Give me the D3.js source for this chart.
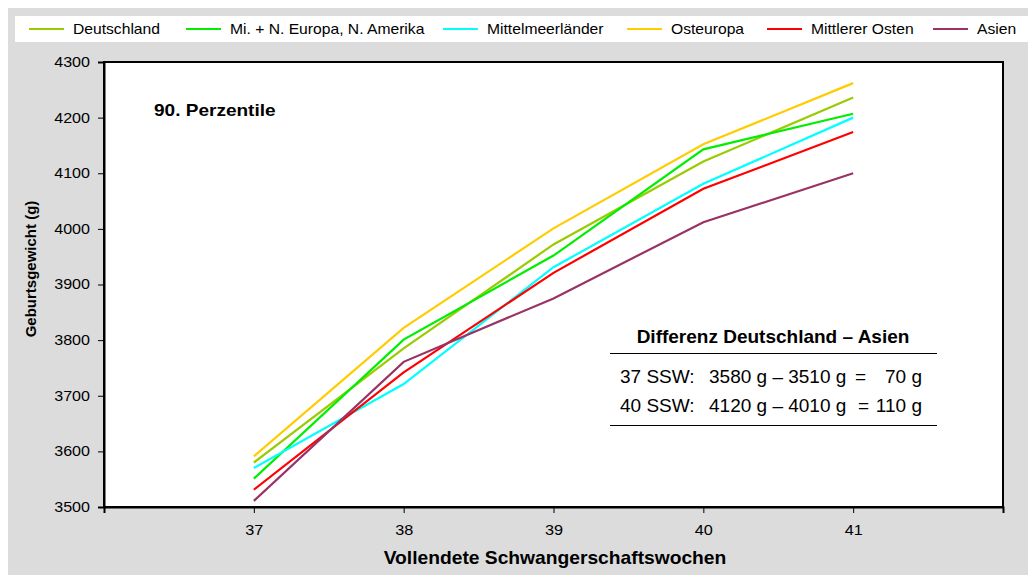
<!DOCTYPE html>
<html>
<head>
<meta charset="utf-8">
<script src="https://cdn.jsdelivr.net/npm/d3@7"></script>
<style>
  body { margin: 0; background: #fff; }
  text { font-family: "Liberation Sans", Arial, sans-serif; fill: #000; }
</style>
</head>
<body>
<script>
// weeks + series (90. Perzentile, grams)
var weeks = [37, 38, 39, 40, 41];
var deutschland = [3580, 3785, 3972, 4121, 4236];
var nordEuropa = [3551, 3801, 3952, 4143, 4207];
var mittelmeer = [3570, 3721, 3931, 4081, 4200];
var osteuropa = [3591, 3822, 4001, 4152, 4262];
var mittlererOsten = [3531, 3742, 3921, 4072, 4174];
var asien = [3511, 3761, 3875, 4012, 4100];
var seriesNames = ["Deutschland", "Mi. + N. Europa, N. Amerika", "Mittelmeerländer", "Osteuropa", "Mittlerer Osten", "Asien"];
var seriesColors = ["#99cc00", "#00ee00", "#00ffff", "#ffcc00", "#ff0000", "#993366"];
var yTicks = [3500, 3600, 3700, 3800, 3900, 4000, 4100, 4200, 4300];

var allSeries = [deutschland, nordEuropa, mittelmeer, osteuropa, mittlererOsten, asien];

var W = 1028, H = 575;
var margin = {top: 62, right: 25, bottom: 68, left: 104},
    width = W - margin.left - margin.right,
    height = H - margin.top - margin.bottom;

var svg = d3.select("body").append("svg")
    .attr("width", W)
    .attr("height", H);

// text helper: the source picture is a bit wider than normal Arial
function label(parent, x, y, str, size, sx, anchor, weight) {
  return parent.append("text")
    .attr("transform", "translate(" + x + "," + y + ") scale(" + sx + ",1)")
    .attr("text-anchor", anchor || "start")
    .style("font-size", size + "px")
    .style("font-weight", weight || "normal")
    .text(str);
}

// grey chart background
svg.append("rect")
    .attr("x", 8).attr("y", 8)
    .attr("width", W - 8).attr("height", H - 8)
    .attr("fill", "#dcdcdc");

// legend strip
svg.append("rect")
    .attr("x", 15).attr("y", 16)
    .attr("width", W - 15).attr("height", 26)
    .attr("fill", "#fff");

var legendX = [29, 186, 443, 627, 767, 933];
seriesNames.forEach(function(name, i) {
  var lg = svg.append("g").attr("transform", "translate(" + legendX[i] + ",29)");
  lg.append("line")
      .attr("x1", 0).attr("x2", 35)
      .attr("stroke", seriesColors[i])
      .attr("stroke-width", 2);
  label(lg, 44, 5, name, 14.5, 1.08);
});

var x = d3.scaleLinear().domain([36, 42]).range([0, width]);
var y = d3.scaleLinear().domain([3500, 4300]).range([height, 0]);

var g = svg.append("g")
    .attr("transform", "translate(" + margin.left + "," + margin.top + ")");

g.append("rect")
    .attr("width", width).attr("height", height)
    .attr("fill", "#fff")
    .attr("stroke", "#000")
    .attr("stroke-width", 2);

var yAxis = g.append("g")
    .attr("class", "y axis")
    .call(d3.axisLeft(y).tickValues(yTicks).tickSize(6).tickFormat(d3.format("d")));
yAxis.select(".domain").attr("stroke", "#000").attr("stroke-width", 2);
yAxis.selectAll("text")
    .attr("x", null)
    .attr("transform", "translate(-14,0) scale(1.15,1)")
    .style("font-size", "14px").style("font-family", "Liberation Sans, Arial, sans-serif");

var xAxis = g.append("g")
    .attr("class", "x axis")
    .attr("transform", "translate(0," + height + ")")
    .call(d3.axisBottom(x).tickValues([36, 37, 38, 39, 40, 41, 42]).tickSize(6)
      .tickFormat(function(d) { return weeks.indexOf(d) >= 0 ? d : ""; }));
xAxis.select(".domain").attr("stroke", "#000").attr("stroke-width", 2);
xAxis.selectAll("text")
    .attr("y", null).attr("dy", null)
    .attr("transform", "translate(0,28) scale(1.12,1)")
    .style("font-size", "14.5px").style("font-family", "Liberation Sans, Arial, sans-serif");

var line = d3.line()
    .x(function(d, i) { return x(weeks[i]); })
    .y(function(d) { return y(d); });

g.selectAll(".series")
    .data(allSeries)
    .enter().append("path")
    .attr("class", "series")
    .attr("fill", "none")
    .attr("stroke", function(d, i) { return seriesColors[i]; })
    .attr("stroke-width", 2.2)
    .attr("d", line);

// axis titles
label(svg, 555, 564, "Vollendete Schwangerschaftswochen", 18.5, 1.04, "middle", "bold");

svg.append("text")
    .attr("transform", "translate(36,269) rotate(-90)")
    .attr("text-anchor", "middle")
    .style("font-size", "15px").style("font-weight", "bold")
    .text("Geburtsgewicht (g)");

label(svg, 154, 116, "90. Perzentile", 17, 1.12, "start", "bold");

// annotation box
label(svg, 773, 343, "Differenz Deutschland \u2013 Asien", 19, 1, "middle", "bold");
svg.append("line")
    .attr("x1", 610).attr("x2", 937).attr("y1", 353.5).attr("y2", 353.5)
    .attr("stroke", "#000").attr("stroke-width", 1.2);
svg.append("line")
    .attr("x1", 610).attr("x2", 937).attr("y1", 425.5).attr("y2", 425.5)
    .attr("stroke", "#000").attr("stroke-width", 1.2);

var rows = [["37 SSW:", "3580 g \u2013 3510 g", "70 g", 855, 383], ["40 SSW:", "4120 g \u2013 4010 g", "110 g", 858, 412]];
rows.forEach(function(r) {
  label(svg, 620, r[4], r[0], 19, 1);
  label(svg, 709, r[4], r[1], 19, 1);
  label(svg, r[3], r[4], "=", 19, 1);
  label(svg, 922, r[4], r[2], 19, 1, "end");
});
</script>
</body>
</html>
